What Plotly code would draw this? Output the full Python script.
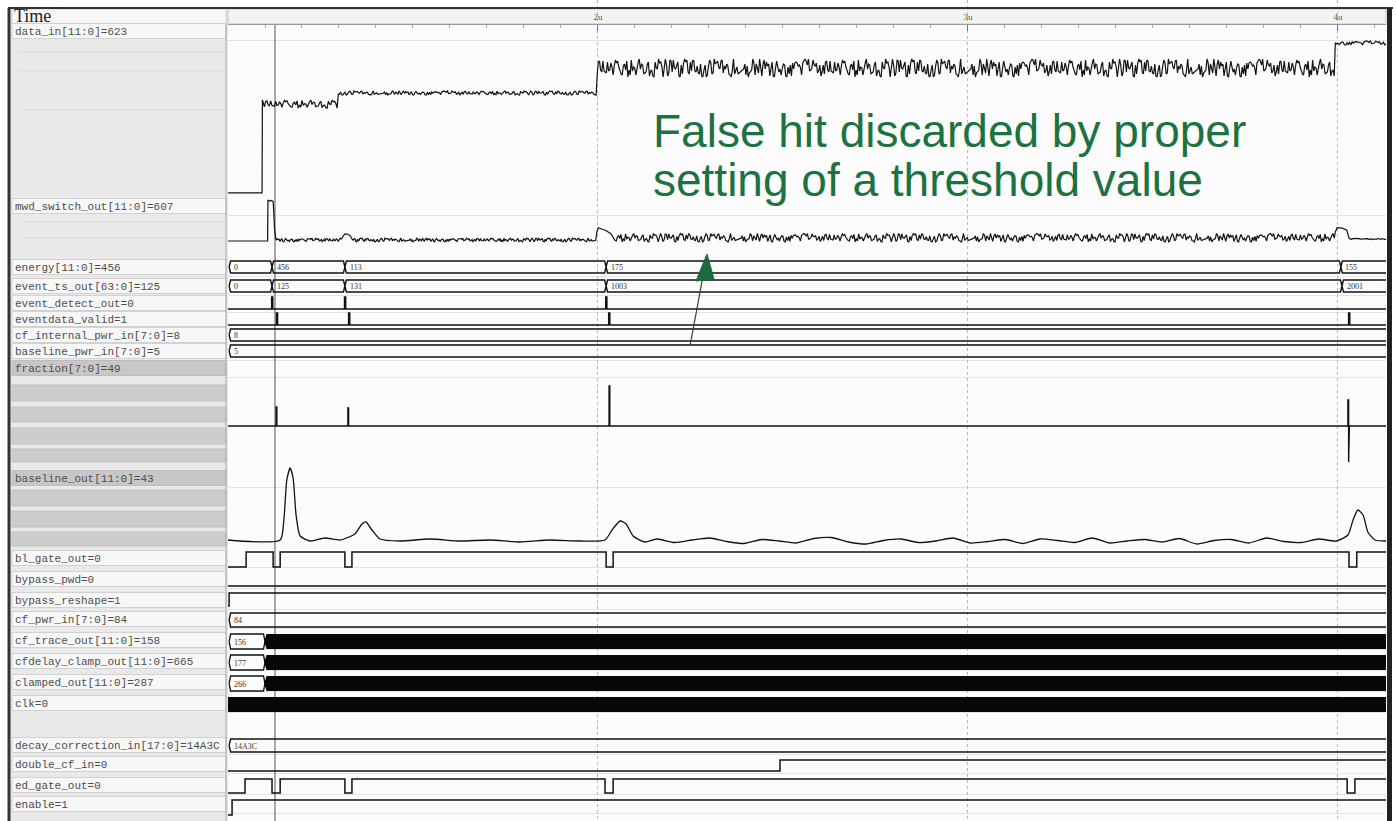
import numpy as np
import plotly.graph_objects as go

W, H = 1396, 821
XA, XB = 228, 1386            # waveform area (px)
T_START, T_END = 1000, 4130    # ns

# ---------------- data ----------------
NOISE = [3, -5, 7, -2, -8, 4, 1, -6, 9, -3, -7, 5, 2, -9, 6, 0, -4, 8, -1, -6,
         3, 7, -8, 2, -3, 5, -7, 9, -2, 4, -5, 1, 6, -9, 3, -4, 8, -6, 0, 5,
         -2, -8, 7, -1, 4, -7, 2, 9, -5, -3, 6, -8, 1, 3, -6, 8, -4, 2, -9, 5,
         0, -3, 7, -5, 4, -2, 9, -7, 1, -4, 6, -8, 3, -1, 5, -6, 8, -3, 2, -9,
         4, 7, -5, 0, -2, 6, -7, 3, 9, -4, -1, 5, -8, 2, -6, 7, -3, 4, 1, -9,
         8, -5, 3, -2, 6, -7, 0, 5, -4, 9, -1, -8, 2, 7, -6, 3, -3, 4, -9, 8,
         1, -5, 6, -2, -7, 3, 5, -4, 9, -8, 0, 2, -6, 7, -1, 4, -3, 8, -9, 5,
         1, -7, 6, -2, 3, -5, 9, -4, 0, 7, -8, 2, -3, 6, -6, 4, 1, -9, 5, -2,
         8, -7, 3, -1, 6, -5, 9, -4, 2, -8, 7, 0, -3, 5, -6, 4, -9, 8, -1, 3,
         -7, 6, -2, 1, -5, 9, -8, 4, -3, 7, -6, 2, 5, -4, 0, 8, -9, 3, -1, 6]
NOISE_STRIDE = 7

RULER_TICKS = [2000, 3000, 4000]
RULER_LABELS = ["2u", "3u", "4u"]
CURSOR_T = 1127

SIGNALS = ["data_in[11:0]=623", "mwd_switch_out[11:0]=607", "energy[11:0]=456",
           "event_ts_out[63:0]=125", "event_detect_out=0", "eventdata_valid=1",
           "cf_internal_pwr_in[7:0]=8", "baseline_pwr_in[7:0]=5", "fraction[7:0]=49",
           "baseline_out[11:0]=43", "bl_gate_out=0", "bypass_pwd=0", "bypass_reshape=1",
           "cf_pwr_in[7:0]=84", "cf_trace_out[11:0]=158", "cfdelay_clamp_out[11:0]=665",
           "clamped_out[11:0]=287", "clk=0", "decay_correction_in[17:0]=14A3C",
           "double_cf_in=0", "ed_gate_out=0", "enable=1"]
HIGHLIGHTED = ["fraction[7:0]=49", "baseline_out[11:0]=43"]

# analog: ("pts", times, values) or ("noise", t0, t1, level, amplitude, samples, offset)
DATA_IN = [
    ("pts", [1000, 1092, 1093], [12, 12, 560]),
    ("noise", 1095, 1295, 535, 24, 60, 0),
    ("noise", 1298, 1995, 600, 12, 230, 30),
    ("noise", 1998, 3990, 747, 53, 650, 7),
    ("noise", 3993, 4130, 894, 12, 40, 120),
]
MWD_SWITCH = [
    ("pts", [1000, 1107], [150, 150]),
    ("pts", [1108, 1112, 1117, 1122, 1126, 1130], [833, 815, 826, 812, 330, 165]),
    ("noise", 1133, 1308, 167, 30, 70, 50),
    ("pts", [1311, 1316, 1324, 1330, 1335], [230, 270, 262, 238, 185]),
    ("noise", 1338, 1994, 168, 30, 260, 90),
    ("pts", [1997, 2001, 2010, 2020, 2035], [300, 372, 350, 330, 270]),
    ("noise", 2040, 3990, 205, 70, 620, 140),
    ("pts", [3993, 3998, 4012, 4024, 4030], [300, 372, 365, 330, 200]),
    ("noise", 4033, 4130, 183, 10, 30, 60),
]
FRACTION_T = [1130, 1324, 2030, 4027, 4029]
FRACTION_V = [49, 46, 103, 67, -92]

BASELINE_OUT_T = [1000, 1141, 1151, 1159, 1168, 1176, 1184, 1195, 1222, 1262, 1303, 1343,
                  1362, 1373, 1389, 1411, 1465, 1546, 1627, 1708, 1789, 1870, 1951, 2019,
                  2038, 2060, 2076, 2095, 2127]
BASELINE_OUT_V = [4, 4, 84, 244, 292, 252, 104, 20, 0, 12, 4, 28, 68, 76, 44, 8, 0, 8, 0,
                  4, -4, 4, 0, 4, 44, 80, 68, 20, -4]
BASELINE_WIGGLE = [8, -6, 4, 12, -2, -10, 6, 0, -8, 10, 14, -4, -12, 2, 8, -6, 0, 12, -8, -2,
                   6, -10, 8, 2, -6, 12, -8, 0, 6, -4, 10, -12, 2, 6, -8, 12, -2, -6, 8, 0]
BASELINE_TAIL_T = [4027, 4041, 4054, 4068, 4081, 4100, 4130]
BASELINE_TAIL_V = [24, 84, 124, 104, 36, 4, 0]

# digital
EVT_DETECT_T = [1000, 1118, 1121, 1315, 1318, 2021, 2024]
EVT_DETECT_V = [0, 1, 0, 1, 0, 1, 0]
EVT_VALID_T = [1000, 1131, 1134, 1326, 1329, 2029, 2032, 4029, 4032]
EVT_VALID_V = [0, 1, 0, 1, 0, 1, 0, 1, 0]
BL_GATE_T = [1000, 1049, 1122, 1141, 1316, 1335, 2022, 2041, 4030, 4051]
BL_GATE_V = [0, 1, 0, 1, 0, 1, 0, 1, 0, 1]
BYPASS_PWD_T, BYPASS_PWD_V = [1000], [0]
BYPASS_RESHAPE_T, BYPASS_RESHAPE_V = [1000, 1003], [0, 1]
DOUBLE_CF_T, DOUBLE_CF_V = [1000, 2492], [0, 1]
ED_GATE_T = [1000, 1046, 1119, 1141, 1316, 1335, 2019, 2041, 4025, 4046]
ED_GATE_V = [0, 1, 0, 1, 0, 1, 0, 1, 0, 1]
ENABLE_T, ENABLE_V = [1000, 1011], [0, 1]

# buses
ENERGY_T = [1003, 1119, 1316, 2022, 4008]
ENERGY_VAL = ["0", "456", "113", "175", "155"]
EVT_TS_T = [1003, 1119, 1316, 2022, 4011]
EVT_TS_VAL = ["0", "125", "131", "1003", "2001"]
CF_INT_T, CF_INT_VAL = [1003], ["8"]
BL_PWR_T, BL_PWR_VAL = [1003], ["5"]
CF_PWR_T, CF_PWR_VAL = [1003], ["84"]
DECAY_T, DECAY_VAL = [1003], ["14A3C"]
DENSE_START = 1100
CF_TRACE_VAL = "156"
CFDELAY_VAL = "177"
CLAMPED_VAL = "266"

ANNOT_LINES = ["False hit discarded by proper", "setting of a threshold value"]

# ---------------- helpers ----------------
fig = go.Figure()
NZ = np.array(NOISE, dtype=float)


def px(x):
    return x / W


def add_line(xs, ys, width=1.4, shape="linear", smoothing=None, color="#111111"):
    line = dict(color=color, width=width, shape=shape)
    if smoothing is not None:
        line["smoothing"] = smoothing
    fig.add_trace(go.Scatter(x=xs, y=ys, mode="lines", line=line,
                             hoverinfo="skip", showlegend=False))


def build(pieces):
    ts, vs = [], []
    for p in pieces:
        if p[0] == "pts":
            ts += list(p[1]); vs += list(p[2])
        else:
            _, a, b, lev, amp, n, off = p
            t = np.linspace(a, b, n)
            idx = (off + NOISE_STRIDE * np.arange(n)) % len(NZ)
            ts += list(t); vs += list(lev + amp * NZ[idx] / 9.0)
    return np.array(ts), np.array(vs)


def analog(pieces, base, k, width=1.2):
    t, v = build(pieces)
    add_line(t, base - k * v, width=width, color="#121212")


def digital(ts, vs, hi, lo):
    xs = list(ts) + [T_END]
    ys = [hi if v else lo for v in vs] + [hi if vs[-1] else lo]
    add_line(xs, ys, width=1.5, shape="hv")


shapes, annots = [], []


def bus(ts, vals, top, bot, d=4, end=T_END):
    mid = (top + bot) / 2
    b = list(ts) + [end]
    xt, yt, xb, yb = [], [], [], []
    for i in range(len(ts)):
        a0, a1 = b[i], b[i + 1]
        e = a1 if i == len(ts) - 1 else a1 - d
        xt += [a0, a0 + d, e]; yt += [mid, top, top]
        xb += [a0, a0 + d, e]; yb += [mid, bot, bot]
        if i < len(ts) - 1:
            xt.append(a1); yt.append(mid); xb.append(a1); yb.append(mid)
        annots.append(dict(x=a0 + 7, y=mid + 0.5, xref="x", yref="y", text=vals[i],
                           showarrow=False, xanchor="left", yanchor="middle",
                           font=dict(family="Liberation Serif", size=8, color="#333")))
    add_line(xt + [None] + xb, yt + [None] + yb, width=1.4)


def dense_bus(val, top, bot, start=T_START + 3, dense=DENSE_START, d=4):
    mid = (top + bot) / 2
    add_line([start, start + d, dense - d, dense, None, start, start + d, dense - d, dense],
             [mid, top, top, mid, None, mid, bot, bot, mid], width=1.3)
    fig.add_trace(go.Scatter(x=[dense - 2, dense + d, T_END, T_END, dense + d, dense - 2],
                             y=[mid, top, top, bot, bot, mid], fill="toself",
                             fillcolor="#080808", mode="lines", line=dict(width=0, color="#080808"),
                             hoverinfo="skip", showlegend=False))
    annots.append(dict(x=start + 7, y=mid + 0.5, xref="x", yref="y", text=val, showarrow=False,
                       xanchor="left", yanchor="middle",
                       font=dict(family="Liberation Serif", size=8, color="#333")))


def rect(x0, x1, y0, y1, fill, line=None, lw=1, layer="below"):
    shapes.append(dict(type="rect", xref="paper", yref="y", x0=px(x0), x1=px(x1), y0=y0, y1=y1,
                       fillcolor=fill, line=dict(color=line or fill, width=lw if line else 0),
                       layer=layer))


def seg(x0, y0, x1, y1, color, width=1, dash=None, layer="below"):
    ln = dict(color=color, width=width)
    if dash:
        ln["dash"] = dash
    shapes.append(dict(type="line", xref="paper", yref="y", x0=px(x0), x1=px(x1), y0=y0, y1=y1,
                       line=ln, layer=layer))


# ---------------- background / frame ----------------
rect(10, XA, 8, H, "#e9e9e9")
rect(XA, XB, 24, H, "#fcfcfc")
rect(XA, XB, 9, 24, "#f3f3f3", "#c4c4c4")
rect(12, XA - 2, 9, 24, "#f7f7f7", "#d0d0d0")

LABEL_Y = [31, 206, 267, 286, 303, 319, 335, 351, 368, 478, 558, 579, 600, 619, 640, 661,
           682, 703, 745, 764, 785, 804]
for name, ly in zip(SIGNALS, LABEL_Y):
    hl = name in HIGHLIGHTED
    rect(12, XA - 2, ly - 7.5, ly + 7.5, "#c7c7c7" if hl else "#f7f7f7", "#bdbdbd" if hl else "#d2d2d2")
    annots.append(dict(x=px(13), y=ly + 0.5, xref="paper", yref="y", text=name, showarrow=False,
                       xanchor="left", yanchor="middle",
                       font=dict(family="Liberation Mono", size=11, color="#4d4d4d")))
    seg(XA, ly + 9.5, XB, ly + 9.5, "#e3e3e3")
# grey analog sub-rows for highlighted signals
for y0, y1 in [(385, 401), (407, 422), (428, 444), (449, 462), (490, 506), (511, 527), (532, 546)]:
    rect(12, XA - 2, y0, y1, "#cdcdcd", "#c2c2c2")
for yy in [52, 71, 110, 222, 238]:
    seg(20, yy, XA - 4, yy, "#dadada")
seg(XA - 2, 24, XA - 2, 823, "#a8a8a8", 1)

annots.append(dict(x=px(12), y=16, xref="paper", yref="y", text="Time", showarrow=False,
                   xanchor="left", yanchor="middle",
                   font=dict(family="Liberation Serif", size=18, color="#222")))

# cursor
shapes.append(dict(type="line", xref="x", yref="y", x0=CURSOR_T, x1=CURSOR_T, y0=25, y1=H,
                   line=dict(color="#555", width=1), layer="below"))

# ---------------- waveforms ----------------
analog(DATA_IN, 195, 0.17)
analog(MWD_SWITCH, 250, 0.06)

fx, fy = [T_START], [0]
for t, v in zip(FRACTION_T, FRACTION_V):
    fx += [t, t, t + 2, t + 2]; fy += [0, v, v, 0]
fx.append(T_END); fy.append(0)
add_line(fx, 426 - 0.39 * np.array(fy), width=1.4)

bt = BASELINE_OUT_T + list(np.linspace(2160, 3995, len(BASELINE_WIGGLE))) + BASELINE_TAIL_T
bv = BASELINE_OUT_V + BASELINE_WIGGLE + BASELINE_TAIL_V
add_line(bt, 541 - 0.25 * np.array(bv), width=1.3, shape="spline", smoothing=0.6)

bus(ENERGY_T, ENERGY_VAL, 261, 273)
bus(EVT_TS_T, EVT_TS_VAL, 280, 292)
digital(EVT_DETECT_T, EVT_DETECT_V, 297, 309)
digital(EVT_VALID_T, EVT_VALID_V, 313, 325)
bus(CF_INT_T, CF_INT_VAL, 329, 341)
bus(BL_PWR_T, BL_PWR_VAL, 345, 357)
digital(BL_GATE_T, BL_GATE_V, 552, 567)
digital(BYPASS_PWD_T, BYPASS_PWD_V, 573, 586)
digital(BYPASS_RESHAPE_T, BYPASS_RESHAPE_V, 593, 606)
bus(CF_PWR_T, CF_PWR_VAL, 613, 627)
dense_bus(CF_TRACE_VAL, 634, 649)
dense_bus(CFDELAY_VAL, 655, 670)
dense_bus(CLAMPED_VAL, 676, 691)
fig.add_trace(go.Scatter(x=[T_START, T_END, T_END, T_START], y=[697, 697, 712, 712], fill="toself",
                         fillcolor="#080808", mode="lines", line=dict(width=0, color="#080808"),
                         hoverinfo="skip", showlegend=False))
bus(DECAY_T, DECAY_VAL, 739, 752)
digital(DOUBLE_CF_T, DOUBLE_CF_V, 760, 771)
digital(ED_GATE_T, ED_GATE_V, 779, 793)
digital(ENABLE_T, ENABLE_V, 800, 815)

# frame on top
seg(8, 8, 1393, 8, "#333", 2, layer="above")
seg(9, 8, 9, 823, "#333", 3, layer="above")
seg(1389.5, 8, 1389.5, 823, "#222", 5, layer="above")

# ---------------- annotation ----------------
GREEN = "#1c7241"
annots.append(dict(x=px(651), y=131, xref="paper", yref="y", text=ANNOT_LINES[0], showarrow=False,
                   xanchor="left", yanchor="middle",
                   font=dict(family="Liberation Sans", size=46, color=GREEN)))
annots.append(dict(x=px(651), y=180, xref="paper", yref="y", text=ANNOT_LINES[1], showarrow=False,
                   xanchor="left", yanchor="middle",
                   font=dict(family="Liberation Sans", size=46, color=GREEN)))
seg(690, 346, 703, 276, "#3a3a3a", 1.2, layer="above")
shapes.append(dict(type="path", xref="paper", yref="y",
                   path=f"M {px(707)},254 L {px(696)},281 L {px(714)},279 Z",
                   fillcolor="#1d6b3c", line=dict(color="#1d6b3c", width=1), layer="above"))

fig.update_layout(
    width=W, height=H, autosize=False,
    margin=dict(l=0, r=0, t=0, b=0),
    paper_bgcolor="white", plot_bgcolor="rgba(0,0,0,0)",
    shapes=shapes, annotations=annots, showlegend=False,
    xaxis=dict(range=[T_START, T_END], domain=[px(XA), px(XB)], anchor="free",
               position=1 - 24 / H, side="top", tickmode="array", tickvals=RULER_TICKS,
               ticktext=RULER_LABELS, ticks="inside", ticklen=6, tickcolor="#777",
               tickfont=dict(family="Liberation Serif", size=9, color="#555"),
               showline=True, linecolor="#999", linewidth=1, zeroline=False,
               showgrid=True, gridcolor="#b8b8b8", griddash="dot", gridwidth=1,
               minor=dict(dtick=100, ticks="inside", ticklen=3, tickcolor="#aaa", showgrid=False),
               fixedrange=True),
    yaxis=dict(range=[H, 0], domain=[0, 1], visible=False, fixedrange=True),
)

fig.write_html("out.html", config={"displayModeBar": False},
               post_script="document.body.style.margin='0';document.body.style.overflow='hidden';")
